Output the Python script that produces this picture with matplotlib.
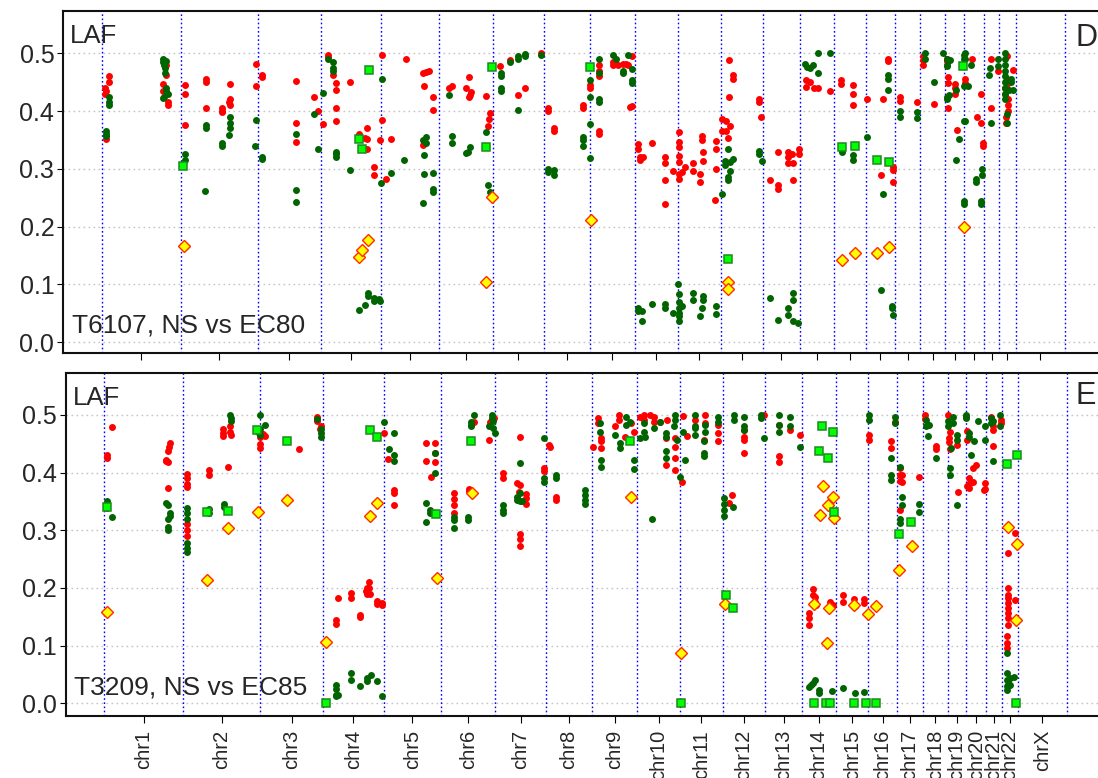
#!/usr/bin/env python3
"""LAF (lesser allele fraction) genome plots for two tumour samples, panels D and E."""

import matplotlib
matplotlib.use("Agg")
import matplotlib.pyplot as plt
import numpy as np

plt.rcParams["font.family"] = ["Liberation Sans", "DejaVu Sans"]

# hg19 chromosome lengths (Mb)
CHROM_NAMES = [f"chr{i}" for i in range(1, 23)] + ["chrX"]
CHROM_LEN = [249.25, 243.2, 198.0, 191.15, 180.9, 171.1, 159.1, 146.4, 141.2,
             135.5, 135.0, 133.85, 115.2, 107.35, 102.5, 90.35, 81.2, 78.1,
             59.1, 63.0, 48.1, 51.3, 155.3]

# ── panel D: T6107, NS vs EC80 ─ (chrom, position Mb, LAF) ──────────
D_RED = [
    (1, 9, .43), (1, 11, .44), (1, 13, .435), (1, 24, .46), (1, 24, .45), (1, 14, .352),
    (1, 192, .447), (1, 192, .435), (1, 203, .48), (1, 203, .463), (1, 208, .415), (1, 208, .41),
    (2, 14, .445), (2, 14, .43), (2, 14, .375), (2, 79, .455), (2, 79, .45), (2, 79, .406),
    (2, 129, .40), (2, 129, .405), (2, 131, .398), (2, 155, .447), (2, 155, .42), (2, 155, .41),
    (2, 153, .415), (2, 238, .482), (2, 238, .443),
    (3, 14, .462), (3, 14, .458), (3, 121, .452), (3, 121, .38), (3, 121, .347), (3, 178, .425),
    (3, 189, .40),
    (4, 6, .377), (4, 24, .497), (4, 24, .493), (4, 40, .462), (4, 48, .449), (4, 48, .437),
    (4, 48, .406), (4, 48, .383), (4, 92, .45), (4, 119, .361), (4, 145, .37), (4, 145, .352),
    (4, 140, .353), (4, 147, .334), (4, 168, .304), (4, 168, .29), (4, 187, .35),
    (5, 2, .497), (5, 2, .385), (5, 13, .282), (5, 31, .351), (5, 78, .49), (5, 130, .466),
    (5, 141, .468), (5, 151, .47), (5, 133, .443), (5, 162, .425), (5, 162, .402), (5, 130, .341),
    (6, 32, .44), (6, 43, .443), (6, 87, .44), (6, 94, .458), (6, 95, .425), (6, 102, .433),
    (6, 98, .428), (6, 150, .426), (6, 161, .396), (6, 159, .387), (6, 156, .374),
    (7, 22, .478), (7, 52, .489), (7, 79, .428), (7, 100, .439), (7, 152, .5),
    (8, 14, .40), (8, 14, .405), (8, 34, .37), (8, 34, .365), (8, 124, .405), (8, 124, .41),
    (9, 1, .44), (9, 1, .445), (9, 28, .48), (9, 28, .47), (9, 28, .46), (9, 28, .36),
    (9, 28, .365), (9, 74, .48), (9, 74, .485), (9, 87, .48), (9, 105, .482), (9, 115, .482),
    (9, 121, .48), (9, 134, .495), (9, 134, .409), (9, 127, .407),
    (10, 10, .343), (10, 10, .335), (10, 16, .32), (10, 16, .315), (10, 26, .321), (10, 55, .344),
    (10, 94, .32), (10, 94, .31), (10, 94, .28), (10, 94, .239), (10, 120, .297),
    (11, 5, .363), (11, 5, .346), (11, 5, .337), (11, 5, .323), (11, 5, .311), (11, 5, .291),
    (11, 5, .283), (11, 13, .294), (11, 23, .304), (11, 47, .31), (11, 47, .297), (11, 76, .357),
    (11, 76, .35), (11, 81, .329), (11, 81, .314), (11, 71, .291), (11, 71, .277), (11, 121, .349),
    (11, 121, .334), (11, 121, .3), (11, 118, .246),
    (12, 6, .386), (12, 6, .366), (12, 17, .383), (12, 17, .366), (12, 24, .354), (12, 31, .374),
    (12, 27, .488), (12, 38, .462), (12, 38, .456), (12, 27, .424), (12, 122, .42), (12, 122, .416),
    (12, 129, .39),
    (13, 21, .28), (13, 47, .33), (13, 47, .272), (13, 47, .266), (13, 79, .33), (13, 79, .32),
    (13, 79, .31), (13, 95, .31), (13, 95, .28), (13, 113, .335), (13, 113, .326), (13, 90, .325),
    (14, 19, .453), (14, 19, .442), (14, 32, .45), (14, 45, .44), (14, 58, .44), (14, 95, .434),
    (15, 23, .453), (15, 23, .447), (15, 60, .445), (15, 60, .43), (15, 60, .411),
    (16, 3, .42), (16, 52, .42), (16, 47, .29), (16, 84, .303), (16, 84, .298), (16, 84, .277),
    (16, 70, .49), (16, 70, .486),
    (17, 18, .424), (17, 18, .418), (17, 71, .415),
    (18, 8, .496), (18, 8, .488), (18, 8, .48), (18, 42, .413),
    (19, 5, .49), (19, 5, .486), (19, 10, .458), (19, 10, .448), (19, 10, .405), (19, 31, .447),
    (19, 31, .44), (19, 31, .43), (19, 36, .367),
    (20, 2, .455), (20, 2, .448), (20, 26, .49), (20, 55, .43), (20, 40, .39), (20, 55, .38),
    (20, 61, .345), (20, 61, .34),
    (21, 21, .49), (21, 45, .47), (21, 21, .405),
    (22, 23, .495), (22, 23, .455), (22, 23, .447), (22, 44, .471), (22, 28, .42), (22, 28, .41),
    (22, 28, .40), (22, 18, .44), (22, 18, .43), (22, 20, .39), (22, 20, .38),
]
D_GREEN = [
    (1, 13, .365), (1, 13, .36), (1, 14, .356), (1, 24, .425), (1, 24, .415), (1, 22, .41),
    (1, 192, .49), (1, 192, .485), (1, 196, .48), (1, 199, .475), (1, 203, .487), (1, 200, .465),
    (1, 203, .44), (1, 203, .435), (1, 197, .425), (1, 192, .423), (1, 208, .43),
    (2, 14, .326), (2, 14, .316), (2, 79, .375), (2, 79, .37), (2, 77, .262), (2, 129, .345),
    (2, 129, .34), (2, 155, .39), (2, 155, .38), (2, 155, .37), (2, 151, .358), (2, 236, .384),
    (2, 233, .34),
    (3, 14, .32), (3, 14, .317), (3, 121, .361), (3, 121, .263), (3, 121, .243), (3, 178, .394),
    (3, 189, .335),
    (4, 6, .432), (4, 24, .49), (4, 40, .485), (4, 40, .475), (4, 40, .47), (4, 48, .33),
    (4, 48, .325), (4, 48, .32), (4, 92, .298), (4, 119, .056), (4, 140, .064), (4, 150, .085),
    (4, 150, .08), (4, 168, .076), (4, 168, .072), (4, 187, .072), (4, 184, .075),
    (5, 2, .456), (5, 0, .275), (5, 31, .292), (5, 71, .315), (5, 130, .35), (5, 141, .345),
    (5, 141, .355), (5, 133, .324), (5, 133, .291), (5, 162, .293), (5, 162, .265), (5, 162, .26),
    (5, 130, .241),
    (6, 32, .428), (6, 43, .356), (6, 43, .344), (6, 87, .327), (6, 98, .338), (6, 92, .33),
    (6, 150, .364), (6, 156, .272), (6, 161, .26),
    (7, 26, .465), (7, 26, .46), (7, 26, .44), (7, 26, .435), (7, 52, .484), (7, 79, .495),
    (7, 79, .49), (7, 79, .402), (7, 102, .498), (7, 102, .495), (7, 152, .497),
    (8, 14, .299), (8, 14, .295), (8, 34, .298), (8, 34, .29), (8, 124, .355), (8, 124, .35),
    (8, 124, .34),
    (9, 1, .454), (9, 1, .425), (9, 1, .378), (9, 1, .318), (9, 28, .49), (9, 28, .466),
    (9, 28, .42), (9, 28, .415), (9, 74, .497), (9, 82, .49), (9, 105, .47), (9, 105, .465),
    (9, 121, .497), (9, 134, .472), (9, 134, .453), (9, 134, .448),
    (10, 10, .06), (10, 10, .054), (10, 24, .054), (10, 24, .037), (10, 55, .067), (10, 94, .066),
    (10, 94, .06), (10, 120, .051),
    (11, 2, .1), (11, 3, .083), (11, 3, .07), (11, 3, .06), (11, 3, .05), (11, 3, .037),
    (11, 13, .063), (11, 5, .045), (11, 47, .086), (11, 47, .074), (11, 80, .08), (11, 80, .074),
    (11, 76, .06), (11, 71, .046), (11, 121, .063), (11, 121, .049),
    (12, 24, .334), (12, 14, .314), (12, 14, .306), (12, 30, .311), (12, 40, .317), (12, 30, .297),
    (12, 24, .286), (12, 24, .28), (12, 6, .257), (12, 122, .331), (12, 122, .326), (12, 132, .313),
    (13, 21, .077), (13, 47, .039), (13, 79, .059), (13, 79, .047), (13, 95, .085), (13, 95, .074),
    (13, 95, .036), (13, 111, .034),
    (14, 18, .482), (14, 32, .474), (14, 42, .48), (14, 58, .5), (14, 58, .465), (14, 95, .5),
    (14, 24, .476),
    (15, 25, .33), (15, 60, .324), (15, 60, .315),
    (16, 3, .355), (16, 52, .256), (16, 70, .462), (16, 70, .455), (16, 70, .437), (16, 47, .09),
    (16, 81, .063), (16, 81, .06), (16, 84, .047),
    (17, 18, .40), (17, 18, .39), (17, 71, .398), (17, 71, .388),
    (18, 13, .5), (18, 13, .49), (18, 42, .45), (18, 70, .5),
    (19, 7, .49), (19, 7, .48), (19, 7, .425), (19, 7, .42), (19, 34, .437), (19, 44, .351),
    (19, 34, .316), (19, 58, .497), (19, 58, .49), (19, 58, .443), (19, 58, .383), (19, 58, .245),
    (19, 58, .24), (19, 5, .478), (19, 16, .488), (19, 11, .427),
    (20, 2, .5), (20, 2, .49), (20, 21, .48), (20, 11, .443), (20, 2, .382), (20, 38, .283),
    (20, 38, .278), (20, 57, .3), (20, 57, .29), (20, 55, .245), (20, 55, .24),
    (21, 45, .49), (21, 19, .475), (21, 45, .478), (21, 17, .462), (21, 21, .38),
    (22, 17, .5), (22, 17, .49), (22, 17, .48), (22, 17, .47), (22, 17, .46), (22, 17, .45),
    (22, 17, .44), (22, 17, .43), (22, 17, .42), (22, 23, .395), (22, 23, .38), (22, 37, .455),
    (22, 37, .45), (22, 32, .437), (22, 42, .436),
]
D_SQUARE = [
    (2, 8, .305), (4, 119, .351), (4, 129, .334), (4, 153, .471), (6, 148, .338), (6, 169, .477),
    (9, 1, .476), (12, 24, .144), (15, 27, .338), (15, 69, .34), (16, 35, .316), (16, 72, .312),
    (19, 55, .478),
]
D_DIAMOND = [
    (2, 11, .167), (4, 119, .148), (4, 129, .16), (4, 150, .177), (6, 169, .252), (6, 150, .104),
    (9, 3, .212), (12, 24, .104), (12, 22, .093), (15, 27, .142), (15, 69, .155), (16, 35, .155),
    (16, 72, .165), (19, 58, .2),
]

# ── panel E: T3209, NS vs EC85 ──────────────────────────────────────
E_RED = [
    (1, 26, .479), (1, 10, .43), (1, 10, .425), (1, 209, .452), (1, 205, .445), (1, 201, .437),
    (1, 196, .422), (1, 201, .419), (1, 194, .42), (1, 201, .374),
    (2, 11, .397), (2, 11, .39), (2, 11, .38), (2, 11, .375), (2, 13, .31), (2, 13, .30),
    (2, 13, .29), (2, 80, .405), (2, 80, .395), (2, 127, .475), (2, 127, .468), (2, 127, .463),
    (2, 141, .409), (2, 148, .48), (2, 148, .47), (2, 150, .465), (2, 242, .462), (2, 242, .45),
    (2, 242, .443),
    (3, 15, .463), (3, 10, .466), (3, 122, .44), (3, 178, .497), (3, 190, .48), (3, 188, .475),
    (3, 180, .49),
    (4, 40, .144), (4, 40, .137), (4, 47, .182), (4, 87, .192), (4, 87, .182), (4, 116, .153),
    (4, 116, .15), (4, 140, .2), (4, 140, .19), (4, 134, .195), (4, 145, .21), (4, 145, .2),
    (4, 147, .19), (4, 169, .178), (4, 169, .172), (4, 187, .173), (4, 187, .17),
    (5, 2, .468), (5, 13, .424), (5, 31, .37), (5, 31, .365), (5, 31, .343), (5, 134, .452),
    (5, 134, .42), (5, 149, .393), (5, 162, .451), (5, 162, .434), (5, 162, .418),
    (6, 42, .364), (6, 42, .354), (6, 42, .343), (6, 42, .33), (6, 87, .372), (6, 87, .368),
    (6, 103, .488), (6, 150, .457), (6, 166, .495), (6, 155, .488),
    (7, 24, .4), (7, 24, .39), (7, 77, .462), (7, 68, .381), (7, 77, .378), (7, 74, .367),
    (7, 98, .362), (7, 98, .355), (7, 98, .346), (7, 79, .293), (7, 79, .285), (7, 79, .273),
    (7, 152, .408), (7, 152, .403),
    (8, 10, .447), (8, 14, .444), (8, 31, .357), (8, 31, .352),
    (9, 1, .445), (9, 18, .494), (9, 18, .486), (9, 28, .46), (9, 28, .454), (9, 28, .442),
    (9, 73, .48), (9, 84, .5), (9, 84, .491), (9, 102, .462), (9, 121, .485), (9, 133, .471),
    (10, 10, .497), (10, 21, .5), (10, 21, .491), (10, 42, .5), (10, 55, .497), (10, 55, .488),
    (10, 73, .488), (10, 94, .491), (10, 92, .46), (10, 92, .413), (10, 121, .46), (10, 121, .445),
    (10, 121, .425), (10, 121, .405),
    (11, 5, .384), (11, 8, .498), (11, 22, .463), (11, 47, .491), (11, 79, .5), (11, 79, .486),
    (11, 77, .457), (11, 119, .483), (11, 119, .468), (11, 119, .455),
    (12, 28, .361), (12, 21, .347), (12, 68, .462), (12, 68, .434), (12, 67, .474), (12, 67, .457),
    (12, 130, .5),
    (13, 44, .483), (13, 44, .428), (13, 44, .419), (13, 79, .474), (13, 110, .465),
    (14, 34, .198), (14, 34, .188), (14, 42, .185), (14, 42, .176), (14, 23, .156), (14, 23, .148),
    (14, 23, .136), (14, 89, .176), (14, 89, .165), (14, 99, .17), (14, 44, .17),
    (15, 24, .188), (15, 21, .175), (15, 56, .18), (15, 56, .17), (15, 61, .168), (15, 90, .18),
    (15, 90, .174),
    (16, 2, .465), (16, 2, .457), (16, 83, .488), (16, 70, .455), (16, 70, .443),
    (17, 10, .407), (17, 10, .396), (17, 10, .385), (17, 16, .396), (17, 16, .384), (17, 10, .335),
    (17, 70, .393),
    (18, 8, .5), (18, 8, .492), (18, 42, .446), (18, 42, .44),
    (19, 0, .5), (19, 8, .471), (19, 5, .46), (19, 5, .453), (19, 8, .44), (19, 31, .448),
    (19, 33, .367),
    (20, 0, .497), (20, 1, .472), (20, 1, .457), (20, 21, .408), (20, 31, .413), (20, 7, .39),
    (20, 7, .38), (20, 7, .374), (20, 21, .384), (20, 1, .377), (20, 58, .382), (20, 58, .372),
    (20, 56, .369),
    (21, 16, .497), (21, 21, .48), (21, 21, .474), (21, 45, .491), (21, 45, .486), (21, 21, .446),
    (22, 21, .2), (22, 21, .188), (22, 21, .182), (22, 21, .173), (22, 21, .165), (22, 21, .156),
    (22, 21, .147), (22, 21, .136), (22, 18, .116), (22, 18, .105), (22, 18, .095), (22, 42, .295),
    (22, 42, .179), (22, 19, .26),
]
E_GREEN = [
    (1, 10, .35), (1, 10, .345), (1, 10, .338), (1, 26, .323), (1, 196, .347), (1, 201, .343),
    (1, 207, .33), (1, 209, .324), (1, 201, .32), (1, 201, .305), (1, 201, .3),
    (2, 11, .338), (2, 11, .33), (2, 11, .32), (2, 11, .277), (2, 11, .27), (2, 11, .262),
    (2, 80, .337), (2, 80, .33), (2, 130, .345), (2, 130, .34), (2, 148, .5), (2, 150, .495),
    (2, 152, .49), (2, 240, .468),
    (3, 0, .499), (3, 15, .482), (3, 0, .476), (3, 0, .465), (3, 178, .493), (3, 190, .476),
    (3, 190, .468), (3, 190, .462),
    (4, 40, .032), (4, 40, .025), (4, 40, .015), (4, 40, .012), (4, 47, .015), (4, 87, .052),
    (4, 87, .04), (4, 116, .03), (4, 140, .043), (4, 140, .038), (4, 150, .049), (4, 169, .039),
    (4, 187, .012),
    (5, 2, .488), (5, 16, .441), (5, 31, .468), (5, 31, .431), (5, 31, .42), (5, 162, .434),
    (5, 162, .4), (5, 134, .348), (5, 147, .335), (5, 147, .33), (5, 152, .33), (5, 134, .315),
    (6, 42, .323), (6, 42, .318), (6, 42, .303), (6, 84, .323), (6, 84, .318), (6, 93, .488),
    (6, 93, .48), (6, 103, .5), (6, 95, .482), (6, 150, .48), (6, 160, .5), (6, 160, .494),
    (6, 163, .49), (6, 163, .477), (6, 171, .468),
    (7, 24, .344), (7, 24, .335), (7, 24, .33), (7, 79, .417), (7, 68, .358), (7, 68, .352),
    (7, 77, .364), (7, 77, .35), (7, 84, .35), (7, 152, .46), (7, 152, .39), (7, 152, .384),
    (8, 31, .396), (8, 31, .39), (8, 123, .37), (8, 123, .361), (8, 123, .352), (8, 123, .345),
    (9, 24, .486), (9, 24, .471), (9, 28, .422), (9, 28, .41), (9, 73, .465), (9, 87, .451),
    (9, 87, .442), (9, 105, .497), (9, 105, .483), (9, 119, .488), (9, 133, .421), (9, 133, .406),
    (10, 10, .46), (10, 21, .486), (10, 21, .471), (10, 26, .462), (10, 55, .477), (10, 71, .488),
    (10, 92, .468), (10, 92, .462), (10, 92, .438), (10, 92, .425), (10, 121, .5), (10, 121, .491),
    (10, 116, .48), (10, 126, .457), (10, 48, .32),
    (11, 1, .393), (11, 8, .471), (11, 16, .422), (11, 47, .5), (11, 47, .48), (11, 47, .477),
    (11, 47, .465), (11, 79, .483), (11, 79, .471), (11, 75, .454), (11, 77, .434), (11, 77, .428),
    (11, 119, .497), (11, 119, .488),
    (12, 5, .356), (12, 5, .345), (12, 5, .335), (12, 5, .324), (12, 31, .341), (12, 36, .5),
    (12, 36, .491), (12, 68, .497), (12, 68, .48), (12, 68, .474), (12, 120, .5), (12, 120, .494),
    (12, 130, .46),
    (13, 44, .499), (13, 44, .483), (13, 44, .471), (13, 79, .497), (13, 79, .48), (13, 110, .445),
    (14, 23, .029), (14, 34, .035), (14, 42, .04), (14, 55, .023), (14, 55, .017), (14, 95, .021),
    (14, 28, .032),
    (15, 24, .027), (15, 59, .017), (15, 90, .019),
    (16, 2, .5), (16, 2, .491), (16, 83, .497), (16, 83, .486), (16, 70, .425), (16, 70, .396),
    (16, 70, .387),
    (17, 10, .41), (17, 16, .358), (17, 16, .344), (17, 10, .32), (17, 10, .312), (17, 70, .345),
    (17, 70, .332),
    (18, 10, .491), (18, 10, .48), (18, 19, .482), (18, 16, .464), (18, 42, .425),
    (19, 0, .49), (19, 0, .48), (19, 16, .497), (19, 16, .486), (19, 10, .442), (19, 31, .465),
    (19, 31, .457), (19, 31, .344), (19, 8, .408), (19, 8, .396),
    (20, 0, .5), (20, 0, .494), (20, 10, .468), (20, 10, .462), (20, 24, .454), (20, 37, .49),
    (20, 14, .43), (20, 58, .48), (20, 58, .457),
    (21, 16, .494), (21, 16, .486), (21, 21, .49), (21, 42, .5), (21, 42, .48), (21, 21, .42),
    (22, 18, .087), (22, 18, .052), (22, 18, .04), (22, 18, .03), (22, 18, .023), (22, 28, .043),
    (22, 28, .032), (22, 39, .046), (22, 21, .038),
]
E_SQUARE = [
    (1, 10, .341), (2, 74, .332), (2, 141, .333), (2, 232, .473), (3, 83, .455), (4, 8, 0.0),
    (4, 148, .473), (4, 169, .462), (5, 166, .328), (6, 93, .455), (9, 120, .455), (11, 4, 0.0),
    (12, 11, .187), (12, 32, .165), (14, 65, .481), (14, 99, .47), (14, 55, .437), (14, 84, .426),
    (14, 101, .331), (14, 39, 0.0), (14, 76, 0.0), (14, 88, 0.0), (15, 56, 0.0), (15, 94, 0.0),
    (16, 25, 0.0), (17, 7, .293), (17, 45, .315), (22, 18, .415), (22, 49, .431), (22, 46, 0.0),
]
E_DIAMOND = [
    (1, 10, .158), (2, 74, .214), (2, 141, .303), (2, 237, .332), (3, 85, .353), (4, 8, .107),
    (4, 148, .325), (4, 169, .347), (5, 168, .218), (6, 96, .365), (9, 121, .357), (11, 4, .088),
    (12, 8, .172), (14, 67, .376), (14, 99, .358), (14, 84, .343), (14, 57, .327), (14, 101, .321),
    (14, 39, .172), (14, 86, .165), (14, 79, .105), (15, 56, .17), (15, 100, .154), (16, 25, .168),
    (17, 7, .231), (17, 47, .273), (22, 21, .306), (22, 49, .276), (22, 46, .145),
]

PANELS = [
    # (red, green, squares, diamonds, sample label, panel letter)
    (D_RED, D_GREEN, D_SQUARE, D_DIAMOND, "T6107, NS vs EC80", "D"),
    (E_RED, E_GREEN, E_SQUARE, E_DIAMOND, "T3209, NS vs EC85", "E"),
]

starts = np.concatenate([[0], np.cumsum(CHROM_LEN)])
mids = starts[:-1] + np.array(CHROM_LEN) / 2
TEXT = "#262626"


def to_xy(points):
    arr = np.array(points, dtype=float)
    x = starts[arr[:, 0].astype(int) - 1] + arr[:, 1]
    return x, arr[:, 2]


W, H = 1098, 778
fig = plt.figure(figsize=(W / 100, H / 100), dpi=100)
# axes boxes in pixels: left, top, bottom (width runs past the right edge, as in the source)
boxes = [(63.3, 11.0, 353.3, (-0.019, 0.573)), (65.6, 372.7, 716.0, (-0.022, 0.573))]
letter_tops = [25, 383]

for i, ((red, green, sq, dia, label, letter), (lpx, tpx, bpx, ylim)) in enumerate(zip(PANELS, boxes)):
    ax = fig.add_axes([lpx / W, 1 - bpx / H, 1040 / W, (bpx - tpx) / H])
    ax.set_xlim(-121.4, 3157.6)
    ax.set_ylim(*ylim)

    for y in np.arange(0, 0.51, 0.1):
        ax.axhline(y, color="#c4c4c4", lw=1.0, ls=(0, (1.2, 2.4)), zorder=1)
    for x in starts:
        ax.axvline(x, color="#0000ff", lw=1.0, ls=(0, (1.2, 1.8)), zorder=1)

    x, y = to_xy(red)
    ax.plot(x, y, "o", color="#ff0000", ms=5.0, mew=0, zorder=3)
    x, y = to_xy(green)
    ax.plot(x, y, "o", color="#006400", ms=5.0, mew=0, zorder=3)
    x, y = to_xy(dia)
    ax.plot(x, y, "D", mfc="#ffff00", mec="#ff2a00", ms=6.0, mew=1.0, zorder=4)
    x, y = to_xy(sq)
    ax.plot(x, y, "s", mfc="#00ff00", mec="#1e8a1e", ms=6.3, mew=1.1, zorder=5)

    ax.set_yticks(np.arange(0, 0.51, 0.1))
    ax.set_yticklabels([f"{v:.1f}" for v in np.arange(0, 0.51, 0.1)])
    ax.set_xticks(mids)
    if i == 1:
        ax.set_xticklabels(CHROM_NAMES, rotation=90, fontsize=14.5, color=TEXT)
    else:
        ax.set_xticklabels([])
    ax.tick_params(axis="y", labelsize=18, labelcolor=TEXT, length=4.5, width=0.8, pad=2)
    ax.tick_params(axis="x", length=5, width=0.8, pad=5)
    for s in ax.spines.values():
        s.set_linewidth(1.5)
        s.set_color("#111111")

    ax.annotate("LAF", xy=(0, 1), xycoords="axes fraction", xytext=(7, -13),
                textcoords="offset pixels", ha="left", va="top", fontsize=18.5, color=TEXT)
    ax.annotate(label, xy=(0, 0), xycoords="axes fraction", xytext=(8.5, 21),
                textcoords="offset pixels", ha="left", va="baseline", fontsize=19, color=TEXT)
    fig.text(1076 / W, 1 - (letter_tops[i] - 2) / H, letter, ha="left", va="top",
             fontsize=22, color=TEXT)

fig.savefig("out.png", dpi=100)
